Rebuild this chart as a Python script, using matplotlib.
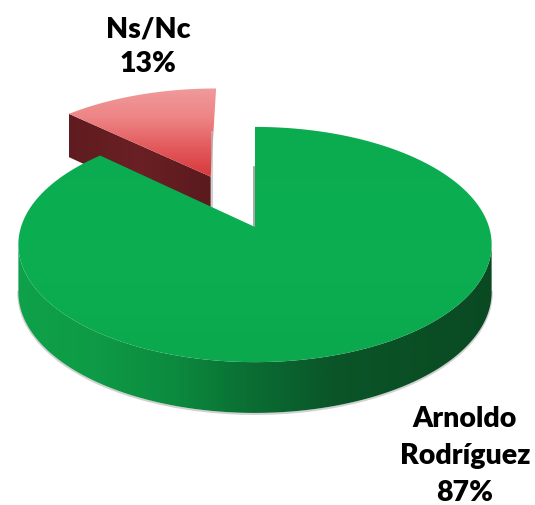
import numpy as np
import matplotlib
matplotlib.use("Agg")
import matplotlib.pyplot as plt
from matplotlib.colors import LinearSegmentedColormap
from matplotlib.patches import Polygon

# Data
names = ["Arnoldo\nRodríguez", "Ns/Nc"]
shares = [87, 13]

# Pie geometry, in picture pixels
cx, cy = 255, 228
rx, ry = 234, 115
persp = 0.149
depth = 47
explode = 0.51

plt.rcParams['font.family'] = ['Lato', 'DejaVu Sans']


def project(u, v, drop=0):
    s = 1 + persp * v
    x = cx + rx * u / s
    y = cy - ry * v / s
    if drop:
        y = y + depth / (1 + 0.5 * persp * v)
    return x, y


def rim(a0, a1, off=(0, 0), drop=0, n=200):
    t = np.radians(np.linspace(a0, a1, n))
    return project(np.sin(t) + off[0], np.cos(t) + off[1], drop)


def gradient(ax, pts, colors, horizontal=False):
    cmap = LinearSegmentedColormap.from_list("g", colors)
    pts = np.column_stack(pts)
    x0, y0 = pts.min(axis=0)
    x1, y1 = pts.max(axis=0)
    g = np.linspace(0, 1, 256)
    g = g.reshape(1, -1) if horizontal else g.reshape(-1, 1)
    im = ax.imshow(g, cmap=cmap, extent=(x0, x1, y1, y0), aspect="auto", interpolation="bilinear", zorder=ax.zcount)
    patch = Polygon(pts, closed=True, transform=ax.transData, fc="none", ec="none")
    ax.add_patch(patch)
    im.set_clip_path(patch)
    ax.zcount += 1


fig = plt.figure(figsize=(5.35, 5.06), dpi=100)
ax = fig.add_axes([0, 0, 1, 1])
ax.zcount = 2

# angles clockwise from 12 o'clock, green slice first
green_end = 360 * shares[0] / sum(shares)
mid = np.radians((green_end + 360) / 2)
off = (explode * np.sin(mid), explode * np.cos(mid))

# red slice, exploded
rx_top, ry_top = rim(green_end, 360, off)
ax_, ay_ = project(off[0], off[1])
bx_, by_ = project(off[0], off[1], 1)
lx, ly = project(np.sin(np.radians(green_end)) + off[0], np.cos(np.radians(green_end)) + off[1])
lbx, lby = project(np.sin(np.radians(green_end)) + off[0], np.cos(np.radians(green_end)) + off[1], 1)

gradient(ax, ([lx, ax_, bx_, lbx], [ly, ay_, by_, lby]), ["#5f1c20", "#6a2024", "#5a1a1e"], horizontal=True)
red_x = np.r_[ax_, rx_top]
red_y = np.r_[ay_, ry_top]
gradient(ax, (red_x, red_y), ["#f09a9c", "#ee8485", "#e35a5c", "#d8383b"])

# soft shadow edges
ax.plot([ax_ + 1.5, ax_ + 1.5], [ay_ - 45, by_], color="#bdbdbd", lw=1.5, alpha=0.7, zorder=ax.zcount)
ax.plot([cx - 1.5, cx - 1.5], [cy - 60, cy], color="#555555", lw=1.2, alpha=0.6, zorder=ax.zcount)
ax.zcount += 1

# green side wall
tx, ty = rim(262, 98)
bx, by = rim(98, 262, drop=1)
ax.plot(bx, by + 1, color="#999999", lw=1.5, alpha=0.45, zorder=ax.zcount)
ax.zcount += 1
gradient(ax, (np.r_[tx, bx], np.r_[ty, by]),
         ["#0fa24a", "#0e9a46", "#0c8a3e", "#0a6c32", "#0a5529", "#0a4f25", "#0a4a23"], horizontal=True)

# green top face
gx, gy = rim(0, green_end, n=400)
gradient(ax, (np.r_[cx, gx], np.r_[cy, gy]), ["#0bab50", "#0cae52", "#0bad50", "#0ca84e"])

# labels
pct = [f"{s}%" for s in shares]
ax.text(465, 456, names[0] + "\n" + pct[0], ha="center", va="center", fontsize=20.5,
        fontweight="heavy", color="black", linespacing=1.52, zorder=50)
ax.text(148, 47, names[1] + "\n" + pct[1], ha="center", va="center", fontsize=20.5,
        fontweight="heavy", color="black", linespacing=1.42, zorder=50)

ax.set_xlim(0, 535)
ax.set_ylim(506, 0)
ax.axis("off")
fig.savefig("out.png", dpi=100)
